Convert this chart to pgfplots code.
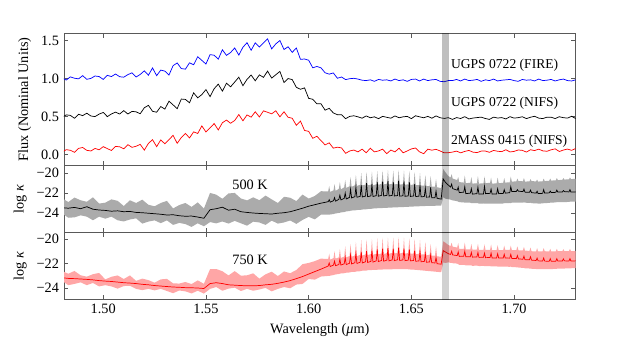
\documentclass[border=0pt]{standalone}
\usepackage{fontspec}
\setmainfont{Liberation Serif}
\usepackage{pgfplots}
\usepackage{pgfplotstable}
\pgfplotsset{compat=1.18}
\usepgfplotslibrary{fillbetween}

% observed spectra (offset), one row per wavelength
\pgfplotstableread{
lam blue black red
1.480 1.010 0.490 0.030
1.482 0.982 0.522 0.062
1.484 1.024 0.515 0.054
1.486 1.006 0.477 0.027
1.488 0.998 0.530 0.079
1.490 1.040 0.512 0.091
1.492 0.992 0.544 0.053
1.494 1.004 0.507 0.045
1.496 1.036 0.499 0.078
1.498 1.028 0.532 0.060
1.500 0.990 0.554 0.102
1.502 1.044 0.499 0.076
1.504 1.028 0.534 0.051
1.506 1.062 0.558 0.105
1.508 1.026 0.533 0.100
1.510 1.020 0.578 0.074
1.512 1.054 0.533 0.128
1.514 1.078 0.568 0.093
1.516 1.022 0.562 0.107
1.518 1.056 0.537 0.132
1.520 1.104 0.616 0.056
1.522 1.046 0.648 0.145
1.524 1.142 0.569 0.194
1.526 1.040 0.557 0.102
1.528 1.114 0.632 0.191
1.530 1.100 0.598 0.140
1.532 1.048 0.703 0.195
1.534 1.172 0.654 0.251
1.536 1.208 0.604 0.146
1.538 1.134 0.731 0.222
1.540 1.126 0.726 0.277
1.542 1.210 0.682 0.217
1.544 1.184 0.813 0.297
1.546 1.290 0.747 0.276
1.548 1.242 0.790 0.376
1.550 1.194 0.856 0.296
1.552 1.318 0.763 0.351
1.554 1.310 0.868 0.407
1.556 1.258 0.928 0.322
1.558 1.382 0.835 0.418
1.560 1.308 0.940 0.453
1.562 1.346 0.893 0.411
1.564 1.406 0.956 0.448
1.566 1.312 1.020 0.526
1.568 1.416 0.907 0.443
1.570 1.476 0.992 0.521
1.572 1.376 1.048 0.492
1.574 1.474 0.972 0.563
1.576 1.418 1.050 0.494
1.578 1.472 1.018 0.575
1.580 1.526 1.100 0.556
1.582 1.394 1.008 0.536
1.584 1.460 1.052 0.576
1.586 1.504 1.096 0.496
1.588 1.386 0.950 0.563
1.590 1.422 1.002 0.490
1.592 1.348 0.988 0.477
1.594 1.406 0.886 0.384
1.596 1.256 0.860 0.440
1.598 1.260 0.878 0.316
1.600 1.244 0.740 0.304
1.602 1.144 0.728 0.212
1.604 1.162 0.668 0.239
1.606 1.144 0.668 0.182
1.608 1.078 0.584 0.125
1.610 1.060 0.608 0.152
1.612 1.076 0.548 0.082
1.614 1.006 0.524 0.095
1.616 1.022 0.524 0.085
1.618 0.988 0.472 0.014
1.620 1.000 0.502 0.045
1.622 1.005 0.510 0.057
1.624 0.995 0.496 0.033
1.626 0.980 0.478 0.069
1.628 0.975 0.508 0.021
1.630 0.985 0.484 0.081
1.632 0.965 0.496 0.033
1.634 0.990 0.472 0.045
1.636 0.980 0.502 0.069
1.638 0.985 0.490 0.009
1.640 0.970 0.478 0.057
1.642 0.995 0.508 0.033
1.644 0.975 0.484 0.081
1.646 0.985 0.496 0.021
1.648 0.965 0.502 0.045
1.650 0.990 0.472 0.072
1.652 0.995 0.510 0.084
1.654 0.970 0.496 0.033
1.656 0.995 0.484 0.009
1.658 0.975 0.502 0.069
1.660 0.985 0.478 0.055
1.662 0.990 0.508 0.067
1.664 0.965 0.484 0.045
1.666 0.960 0.475 0.020
1.668 0.975 0.485 0.022
1.670 0.975 0.462 0.030
1.672 0.990 0.486 0.043
1.674 0.970 0.474 0.020
1.676 0.995 0.498 0.039
1.678 0.975 0.468 0.052
1.680 0.980 0.480 0.029
1.682 0.990 0.486 0.024
1.684 0.965 0.492 0.043
1.686 0.985 0.474 0.044
1.688 0.975 0.462 0.027
1.690 0.995 0.492 0.052
1.692 0.970 0.480 0.041
1.694 0.980 0.486 0.036
1.696 0.985 0.468 0.061
1.698 0.990 0.498 0.032
1.700 0.975 0.479 0.039
1.702 0.965 0.485 0.058
1.704 0.990 0.497 0.053
1.706 0.980 0.473 0.030
1.708 0.985 0.491 0.061
1.710 0.970 0.503 0.050
1.712 0.995 0.479 0.069
1.714 0.975 0.473 0.046
1.716 0.980 0.491 0.041
1.718 0.990 0.491 0.060
1.720 0.970 0.473 0.073
1.722 0.985 0.497 0.038
1.724 0.995 0.485 0.057
1.726 0.975 0.479 0.070
1.728 0.970 0.503 0.053
1.730 0.985 0.473 0.078
}\flux

% log kappa: line, upper and lower envelope for 500 K and 750 K
\pgfplotstableread{
lam k5 k5u k5l k7 k7u k7l
1.480 -23.45 -22.50 -24.01 -23.15 -22.61 -23.40
1.483 -23.50 -22.89 -24.45 -23.20 -22.82 -23.75
1.486 -23.42 -22.44 -24.41 -23.22 -22.60 -23.65
1.489 -23.55 -22.71 -24.21 -23.25 -22.95 -23.52
1.492 -23.35 -22.86 -24.34 -23.28 -23.06 -23.75
1.495 -23.60 -22.41 -24.70 -23.32 -22.86 -23.57
1.498 -23.68 -23.04 -24.34 -23.38 -22.76 -23.85
1.501 -23.72 -22.95 -24.54 -23.42 -23.28 -23.75
1.504 -23.80 -22.62 -24.34 -23.45 -23.07 -23.85
1.507 -23.76 -22.77 -24.70 -23.50 -22.96 -24.03
1.510 -23.85 -23.28 -24.82 -23.55 -23.25 -23.82
1.513 -23.82 -22.71 -24.62 -23.58 -22.96 -23.80
1.516 -23.92 -22.98 -24.51 -23.62 -23.40 -24.05
1.519 -23.95 -22.65 -25.03 -23.68 -23.22 -24.15
1.522 -24.00 -23.16 -24.83 -23.72 -23.34 -24.05
1.525 -24.05 -23.31 -24.71 -23.78 -23.55 -24.17
1.528 -24.10 -22.98 -24.99 -23.82 -23.28 -24.05
1.531 -24.18 -22.77 -24.71 -23.86 -23.24 -24.22
1.534 -24.15 -23.52 -25.16 -23.90 -23.60 -24.40
1.537 -24.25 -23.19 -24.96 -23.92 -23.62 -24.18
1.540 -24.30 -22.98 -25.08 -23.95 -23.49 -24.25
1.543 -24.28 -23.37 -25.36 -23.96 -23.66 -24.42
1.546 -24.38 -22.92 -25.00 -23.98 -23.36 -24.20
1.549 -24.50 -23.54 -25.30 -24.02 -23.64 -24.43
1.552 -23.65 -21.98 -24.88 -23.62 -22.45 -24.05
1.555 -23.55 -22.15 -25.01 -23.55 -22.44 -23.90
1.558 -23.40 -22.56 -24.82 -23.62 -22.62 -24.20
1.561 -23.70 -22.03 -25.03 -23.72 -22.96 -24.03
1.564 -23.60 -21.98 -24.76 -23.75 -22.61 -23.95
1.567 -23.85 -22.53 -25.00 -23.78 -22.98 -24.22
1.570 -23.92 -22.72 -25.24 -23.80 -22.95 -24.05
1.573 -23.98 -22.42 -24.84 -23.80 -22.79 -24.20
1.576 -24.02 -22.70 -24.92 -23.78 -23.22 -24.10
1.579 -24.05 -22.24 -25.16 -23.72 -22.87 -23.97
1.582 -24.08 -22.62 -24.74 -23.68 -22.66 -24.25
1.585 -24.00 -22.98 -25.03 -23.60 -23.01 -24.05
1.588 -23.95 -22.36 -24.92 -23.50 -22.64 -23.90
1.591 -23.85 -22.46 -24.72 -23.38 -22.78 -24.00
1.594 -23.68 -22.79 -25.06 -23.22 -22.52 -23.70
1.597 -23.50 -22.14 -24.67 -23.05 -22.05 -23.65
1.600 -23.30 -22.54 -24.36 -22.85 -21.95 -23.25
1.603 -23.15 -22.28 -24.61 -22.65 -21.80 -23.30
1.606 -23.00 -21.81 -24.14 -22.45 -21.60 -23.05
1.6095 -22.85 -21.82 -24.15 -22.20 -21.63 -23.00
1.6100 -22.65 -21.30 -24.15 -21.95 -21.20 -23.00
1.6105 -22.90 -21.88 -24.12 -22.24 -21.68 -22.98
1.6121 -22.75 -21.72 -24.08 -22.12 -21.55 -22.93
1.6126 -22.45 -21.10 -24.05 -21.80 -21.00 -22.90
1.6131 -22.80 -21.78 -24.02 -22.17 -21.60 -22.88
1.6147 -22.62 -21.57 -23.97 -22.08 -21.50 -22.84
1.6152 -22.20 -20.90 -23.95 -21.65 -20.80 -22.82
1.6157 -22.68 -21.63 -23.92 -22.12 -21.54 -22.80
1.6173 -22.52 -21.42 -23.88 -22.02 -21.44 -22.78
1.6178 -22.00 -20.70 -23.85 -21.50 -20.60 -22.76
1.6183 -22.58 -21.48 -23.82 -22.08 -21.50 -22.74
1.6199 -22.42 -21.32 -23.78 -21.97 -21.39 -22.72
1.6204 -21.60 -20.40 -23.75 -21.30 -20.40 -22.70
1.6209 -22.48 -21.38 -23.73 -22.03 -21.45 -22.68
1.6225 -22.35 -21.22 -23.72 -21.93 -21.34 -22.67
1.6230 -21.40 -20.20 -23.70 -21.20 -20.25 -22.65
1.6235 -22.41 -21.28 -23.68 -21.99 -21.40 -22.63
1.6251 -22.32 -21.17 -23.67 -21.89 -21.29 -22.62
1.6256 -21.20 -20.00 -23.65 -21.05 -20.10 -22.60
1.6261 -22.38 -21.23 -23.63 -21.95 -21.35 -22.58
1.6277 -22.29 -21.15 -23.62 -21.85 -21.26 -22.58
1.6282 -21.00 -19.90 -23.60 -21.00 -20.05 -22.56
1.6287 -22.35 -21.21 -23.58 -21.91 -21.32 -22.54
1.6303 -22.27 -21.17 -23.57 -21.82 -21.23 -22.54
1.6308 -21.10 -19.85 -23.55 -20.95 -20.00 -22.52
1.6313 -22.33 -21.23 -23.53 -21.88 -21.29 -22.51
1.6329 -22.25 -21.12 -23.52 -21.78 -21.20 -22.51
1.6334 -20.90 -19.80 -23.50 -20.85 -19.95 -22.50
1.6339 -22.31 -21.18 -23.49 -21.84 -21.26 -22.49
1.6355 -22.22 -21.07 -23.49 -21.75 -21.17 -22.49
1.6360 -20.85 -19.75 -23.48 -20.80 -19.90 -22.48
1.6365 -22.28 -21.13 -23.47 -21.81 -21.23 -22.47
1.6381 -22.22 -21.07 -23.46 -21.72 -21.15 -22.47
1.6386 -20.80 -19.70 -23.45 -20.75 -19.90 -22.46
1.6391 -22.28 -21.13 -23.44 -21.78 -21.21 -22.46
1.6407 -22.22 -21.07 -23.43 -21.70 -21.13 -22.46
1.6412 -20.90 -19.75 -23.42 -20.80 -19.90 -22.45
1.6417 -22.28 -21.13 -23.41 -21.76 -21.19 -22.45
1.6433 -22.24 -21.09 -23.41 -21.69 -21.12 -22.45
1.6438 -20.75 -19.70 -23.40 -20.70 -19.85 -22.45
1.6443 -22.30 -21.15 -23.39 -21.75 -21.18 -22.45
1.6459 -22.26 -21.11 -23.39 -21.70 -21.13 -22.45
1.6464 -20.85 -19.75 -23.38 -20.80 -19.90 -22.45
1.6469 -22.32 -21.17 -23.37 -21.76 -21.19 -22.45
1.6485 -22.27 -21.12 -23.36 -21.72 -21.15 -22.46
1.6490 -20.90 -19.80 -23.35 -20.85 -19.95 -22.47
1.6495 -22.33 -21.18 -23.34 -21.78 -21.21 -22.48
1.6511 -22.28 -21.15 -23.33 -21.75 -21.18 -22.49
1.6516 -21.10 -19.90 -23.32 -20.95 -20.00 -22.50
1.6521 -22.34 -21.21 -23.31 -21.81 -21.24 -22.51
1.6537 -22.30 -21.19 -23.31 -21.79 -21.21 -22.53
1.6542 -21.20 -20.00 -23.30 -21.05 -20.10 -22.54
1.6547 -22.36 -21.25 -23.29 -21.85 -21.27 -22.55
1.6563 -22.34 -21.25 -23.29 -21.83 -21.25 -22.57
1.6568 -21.50 -20.20 -23.28 -21.20 -20.25 -22.58
1.6573 -22.40 -21.31 -23.27 -21.89 -21.31 -22.59
1.6589 -22.39 -21.29 -23.27 -21.87 -21.30 -22.61
1.6594 -21.40 -20.30 -23.26 -21.30 -20.40 -22.62
1.6599 -22.45 -21.35 -23.26 -21.93 -21.36 -22.63
1.6615 -22.45 -21.35 -23.26 -21.95 -21.35 -22.65
1.6620 -21.80 -20.60 -23.25 -21.50 -20.60 -22.66
1.6625 -22.51 -21.41 -23.25 -22.01 -21.41 -22.67
1.6645 -22.60 -21.50 -23.25 -22.05 -21.45 -22.70
1.6655 -20.60 -19.60 -22.40 -20.95 -20.20 -21.90
1.6665 -20.90 -19.90 -22.55 -21.05 -20.30 -21.95
1.6680 -21.20 -20.30 -22.60 -21.20 -20.50 -21.90
1.6691 -21.40 -20.45 -22.65 -21.26 -20.58 -21.94
1.6696 -21.10 -20.10 -22.70 -21.00 -20.30 -21.95
1.6701 -21.55 -20.55 -22.72 -21.30 -20.63 -21.97
1.6723 -21.70 -20.70 -22.80 -21.35 -20.70 -22.00
1.6728 -21.40 -20.40 -22.85 -21.05 -20.35 -22.05
1.6733 -21.95 -20.90 -22.90 -21.42 -20.80 -22.10
1.6755 -21.90 -20.95 -22.92 -21.40 -20.82 -22.10
1.6760 -21.35 -20.25 -22.95 -21.00 -20.30 -22.12
1.6765 -22.05 -21.00 -22.95 -21.45 -20.85 -22.15
1.6787 -22.00 -20.98 -22.95 -21.44 -20.84 -22.15
1.6792 -21.55 -20.40 -23.00 -21.10 -20.40 -22.15
1.6797 -22.10 -21.05 -23.00 -21.48 -20.88 -22.18
1.6819 -22.05 -21.02 -23.00 -21.46 -20.86 -22.17
1.6824 -21.40 -20.30 -23.00 -21.10 -20.40 -22.18
1.6829 -22.10 -21.05 -23.05 -21.50 -20.90 -22.20
1.6851 -22.08 -21.02 -23.03 -21.49 -20.88 -22.19
1.6856 -21.30 -20.35 -23.05 -21.15 -20.45 -22.20
1.6861 -22.05 -21.00 -23.05 -21.52 -20.90 -22.20
1.6883 -22.02 -20.98 -23.05 -21.51 -20.89 -22.21
1.6888 -21.60 -20.45 -23.05 -21.15 -20.45 -22.22
1.6893 -22.10 -21.05 -23.05 -21.55 -20.92 -22.22
1.6915 -22.08 -21.03 -23.05 -21.54 -20.90 -22.23
1.6920 -21.55 -20.45 -23.05 -21.20 -20.50 -22.24
1.6925 -22.05 -21.00 -23.05 -21.55 -20.92 -22.25
1.6947 -22.03 -20.98 -23.03 -21.55 -20.91 -22.25
1.6952 -21.65 -20.50 -23.00 -21.25 -20.55 -22.25
1.6957 -22.00 -20.95 -23.00 -21.55 -20.90 -22.25
1.6979 -21.95 -20.92 -22.98 -21.56 -20.90 -22.26
1.6984 -21.35 -20.35 -23.00 -21.25 -20.55 -22.25
1.6989 -21.85 -20.85 -22.95 -21.58 -20.90 -22.28
1.7011 -21.83 -20.83 -22.95 -21.60 -20.91 -22.30
1.7016 -21.65 -20.55 -22.95 -21.35 -20.60 -22.30
1.7021 -21.80 -20.80 -22.95 -21.62 -20.92 -22.32
1.7043 -21.85 -20.82 -22.95 -21.65 -20.93 -22.35
1.7048 -21.60 -20.50 -22.90 -21.40 -20.65 -22.35
1.7053 -21.90 -20.85 -22.95 -21.68 -20.95 -22.38
1.7075 -21.92 -20.83 -22.97 -21.70 -20.97 -22.40
1.7080 -21.70 -20.60 -22.95 -21.45 -20.70 -22.40
1.7085 -21.95 -20.80 -23.00 -21.72 -21.00 -22.42
1.7107 -22.00 -20.83 -23.02 -21.75 -21.01 -22.44
1.7112 -21.80 -20.65 -23.00 -21.55 -20.75 -22.45
1.7117 -22.05 -20.85 -23.05 -21.78 -21.02 -22.45
1.7139 -22.02 -20.82 -23.02 -21.79 -21.01 -22.45
1.7144 -21.65 -20.55 -23.00 -21.55 -20.75 -22.45
1.7149 -22.00 -20.80 -23.00 -21.80 -21.00 -22.45
1.7171 -21.97 -20.77 -22.97 -21.81 -21.01 -22.45
1.7176 -21.80 -20.55 -22.95 -21.60 -20.80 -22.45
1.7181 -21.95 -20.75 -22.95 -21.82 -21.02 -22.45
1.7203 -21.92 -20.72 -22.92 -21.81 -21.01 -22.42
1.7208 -21.70 -20.50 -22.90 -21.60 -20.80 -22.42
1.7213 -21.90 -20.70 -22.90 -21.80 -21.00 -22.40
1.7235 -21.88 -20.68 -22.90 -21.79 -21.00 -22.40
1.7240 -21.75 -20.50 -22.90 -21.62 -20.82 -22.40
1.7245 -21.85 -20.65 -22.90 -21.78 -21.00 -22.40
1.7267 -21.88 -20.62 -22.87 -21.79 -21.00 -22.39
1.7272 -21.65 -20.45 -22.85 -21.60 -20.80 -22.38
1.7277 -21.90 -20.60 -22.85 -21.80 -21.00 -22.38
1.7299 -21.88 -20.58 -22.85 -21.78 -20.98 -22.36
1.7304 -21.85 -20.50 -22.85 -21.75 -20.95 -22.35
}\kap

\tikzset{tag/.style={anchor=west, inner sep=0pt, font=\fontsize{9.5}{11}\selectfont}}

\pgfplotsset{
  panel/.style={
    scale only axis,
    width=358.2pt,
    xmin=1.4809, xmax=1.730,
    xtick={1.50,1.55,1.60,1.65,1.70},
    xticklabels={},
    tick align=inside,
    major tick length=3pt,
    axis line style={black!65, line width=0.6pt},
    tick style={black!65, line width=0.5pt},
    /pgf/number format/assume math mode=true,
    clip=true,
    anchor=north west,
  },
  kpanel/.style={
    ytick={-24,-22,-20},
    yticklabels={−24,−22,−20},
    ylabel={log \textit{κ}},
  },
}

\begin{document}
\begin{tikzpicture}

% observed fluxes
\begin{axis}[panel, at={(0pt,0pt)}, height=92.7pt,
    ymin=-0.15, ymax=1.60,
    ytick={0,0.5,1,1.5}, yticklabels={0.0,0.5,1.0,1.5},
    ylabel={Flux (Nominal Units)}]
  \addplot[blue, line width=0.5pt] table[x=lam, y=blue] {\flux};
  \addplot[black, line width=0.5pt] table[x=lam, y=black] {\flux};
  \addplot[red, line width=0.5pt] table[x=lam, y=red] {\flux};
  \addplot[draw=none, fill=black, fill opacity=0.25]
    coordinates {(1.6650,-1) (1.6650,2) (1.6682,2) (1.6682,-1)} -- cycle;
  \node[tag] at (axis cs:1.6692,1.18) {UGPS 0722 (FIRE)};
  \node[tag] at (axis cs:1.6692,0.675) {UGPS 0722 (NIFS)};
  \node[tag] at (axis cs:1.6692,0.167) {2MASS 0415 (NIFS)};
\end{axis}

% 500 K opacity
\begin{axis}[panel, kpanel, at={(0pt,-92.7pt)}, height=46.9pt,
    ymin=-25.94, ymax=-19.27]
  \addplot[draw=none, name path=u5] table[x=lam, y=k5u] {\kap};
  \addplot[draw=none, name path=l5] table[x=lam, y=k5l] {\kap};
  \addplot[black!33] fill between[of=u5 and l5];
  \addplot[black, line width=0.5pt] table[x=lam, y=k5] {\kap};
  \addplot[draw=none, fill=black, fill opacity=0.18]
    coordinates {(1.6650,-30) (1.6650,-10) (1.6682,-10) (1.6682,-30)} -- cycle;
  \node at (axis cs:1.5715,-21.17) {500 K};
\end{axis}

% 750 K opacity
\begin{axis}[panel, kpanel, at={(0pt,-139.6pt)}, height=46.4pt,
    ymin=-24.87, ymax=-19.5,
    xticklabels={1.50,1.55,1.60,1.65,1.70},
    xlabel={Wavelength (\textit{μ}m)}]
  \addplot[draw=none, name path=u7] table[x=lam, y=k7u] {\kap};
  \addplot[draw=none, name path=l7] table[x=lam, y=k7l] {\kap};
  \addplot[red!35] fill between[of=u7 and l7];
  \addplot[red, line width=0.5pt] table[x=lam, y=k7] {\kap};
  \addplot[draw=none, fill=black, fill opacity=0.18]
    coordinates {(1.6650,-30) (1.6650,-10) (1.6682,-10) (1.6682,-30)} -- cycle;
  \node at (axis cs:1.5715,-21.7) {750 K};
\end{axis}

% page frame of the original figure
\path (-44.8pt,23.3pt) rectangle (403.2pt,-209.8pt);
\end{tikzpicture}
\end{document}
